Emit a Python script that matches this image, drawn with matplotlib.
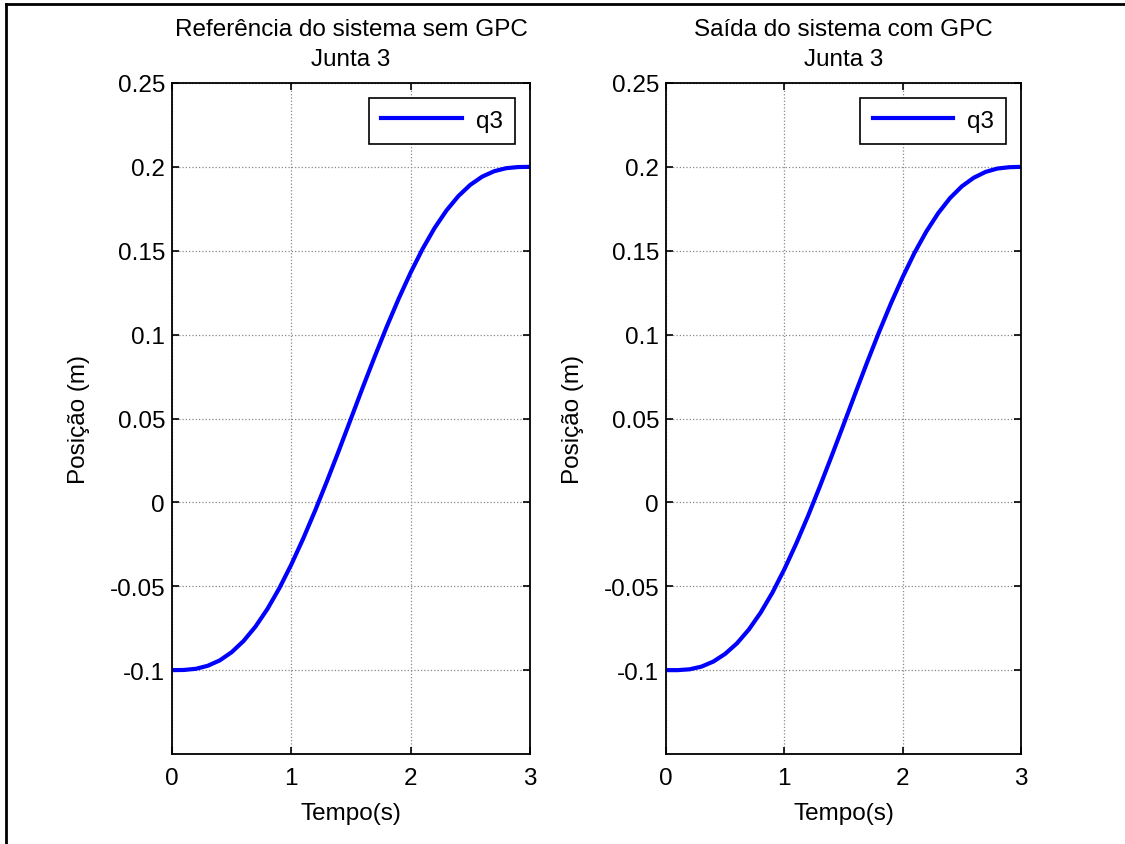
import matplotlib
matplotlib.use("Agg")
from matplotlib import pyplot as plt
from matplotlib.lines import Line2D

# tempo (s)
t = [0.0, 0.1, 0.2, 0.3, 0.4, 0.5, 0.6, 0.7, 0.8, 0.9, 1.0,
     1.1, 1.2, 1.3, 1.4, 1.5, 1.6, 1.7, 1.8, 1.9, 2.0,
     2.1, 2.2, 2.3, 2.4, 2.5, 2.6, 2.7, 2.8, 2.9, 3.0]

# referencia sem GPC, junta 3 (m)
q3_ref = [-0.1000, -0.0999, -0.0992, -0.0974, -0.0942, -0.0893, -0.0826,
          -0.0740, -0.0635, -0.0511, -0.0370, -0.0215, -0.0048, 0.0129,
          0.0312, 0.0500, 0.0688, 0.0871, 0.1048, 0.1215, 0.1370,
          0.1511, 0.1635, 0.1740, 0.1826, 0.1893, 0.1942, 0.1974,
          0.1992, 0.1999, 0.2000]

# saida com GPC, junta 3 (m)
q3_gpc = [-0.1000, -0.1000, -0.0995, -0.0979, -0.0949, -0.0903, -0.0840,
          -0.0758, -0.0657, -0.0537, -0.0399, -0.0246, -0.0081, 0.0095,
          0.0277, 0.0463, 0.0651, 0.0836, 0.1015, 0.1185, 0.1343,
          0.1488, 0.1615, 0.1724, 0.1814, 0.1884, 0.1935, 0.1970,
          0.1990, 0.1998, 0.2000]

titles = ["Referência do sistema sem GPC\nJunta 3",
          "Saída do sistema com GPC\nJunta 3"]
series = [q3_ref, q3_gpc]
yticks = [-0.1, -0.05, 0, 0.05, 0.1, 0.15, 0.2, 0.25]
ylabels = ["-0.1", "-0.05", "0", "0.05", "0.1", "0.15", "0.2", "0.25"]

plt.rcParams['font.family'] = ['Liberation Sans', 'DejaVu Sans']
fs = 17.5

fig = plt.figure(figsize=(11.25, 8.45), dpi=100)

# moldura da figura (so esquerda e topo visiveis)
fig.add_artist(Line2D([6 / 1125, 6 / 1125], [0, 1 - 5 / 845], color='black', lw=2,
                      transform=fig.transFigure))
fig.add_artist(Line2D([6 / 1125, 1], [1 - 5 / 845, 1 - 5 / 845], color='black', lw=2,
                      transform=fig.transFigure))

positions = [[0.1529, 0.1065, 0.3182, 0.7941],
             [0.5920, 0.1065, 0.3156, 0.7941]]

for i in range(2):
    ax = fig.add_axes(positions[i])
    ax.plot(t, series[i], color='#0000ff', lw=3, label='q3')
    ax.set_xlim(0, 3)
    ax.set_ylim(-0.15, 0.25)
    ax.set_xticks([0, 1, 2, 3])
    ax.set_yticks(yticks)
    ax.set_yticklabels(ylabels)
    ax.grid(True, color='#888888', linestyle=':', linewidth=0.9)
    ax.tick_params(direction='in', length=5, width=1.2, top=True, right=True,
                   labelsize=fs)
    ax.tick_params(axis='y', pad=5)
    ax.tick_params(axis='x', pad=9)
    for sp in ax.spines.values():
        sp.set_linewidth(1.3)
    ax.set_title(titles[i], fontsize=fs, pad=13, linespacing=1.45)
    ax.set_xlabel("Tempo(s)", fontsize=fs, labelpad=10)
    ax.set_ylabel("Posição (m)", fontsize=fs, labelpad=14)
    leg = ax.legend(loc='upper right', fancybox=False, framealpha=1,
                    edgecolor='black', handlelength=3.3, borderaxespad=0.6,
                    borderpad=0.5, handletextpad=0.6, fontsize=fs)
    leg.get_frame().set_linewidth(1.2)

plt.savefig("out.png", dpi=100)
